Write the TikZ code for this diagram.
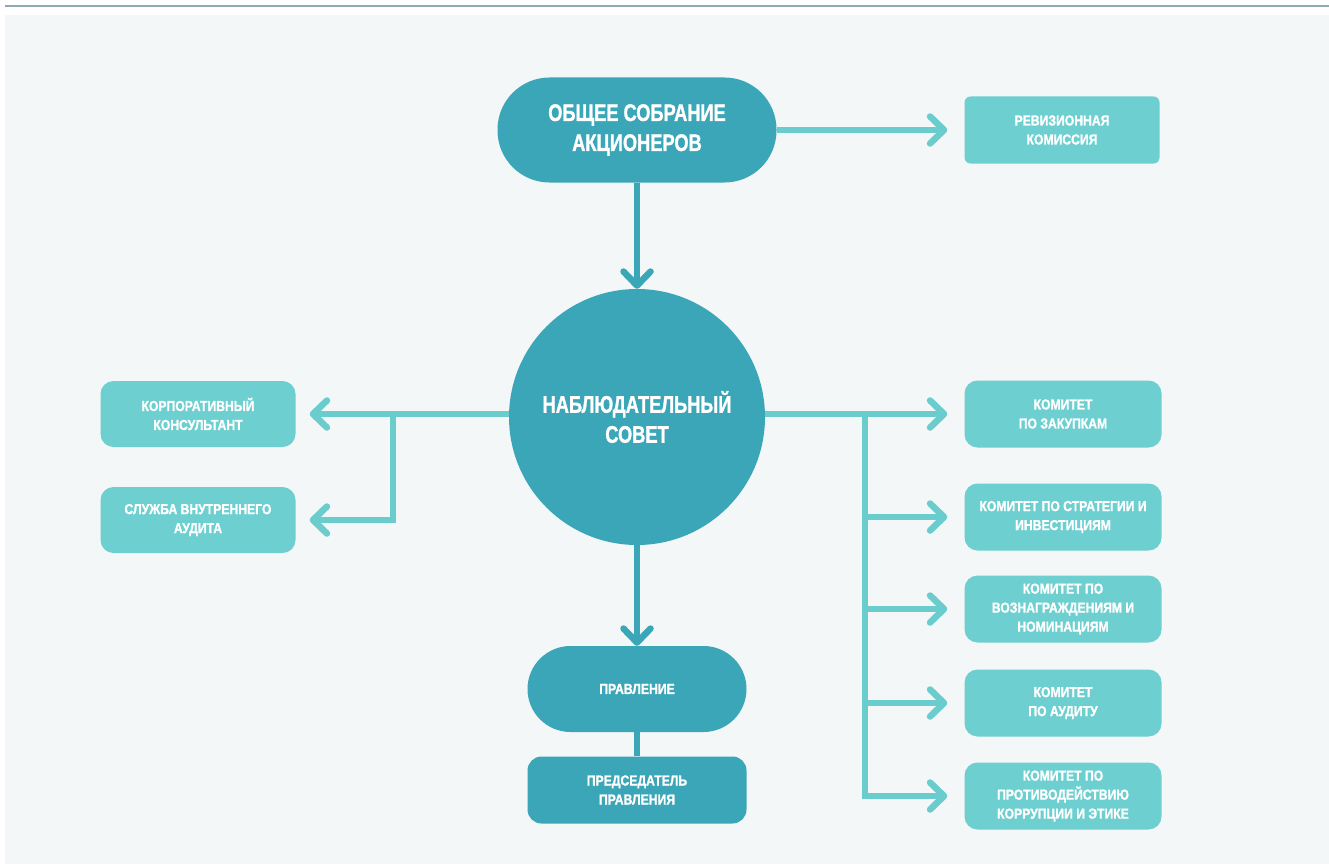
\documentclass[tikz,border=0pt]{standalone}
\usepackage{fontspec}
\setmainfont{Liberation Sans}
\newfontfamily\bigf{Liberation Sans}[FakeStretch=0.76,FakeBold=1.2]
\newfontfamily\smallf{Liberation Sans}[FakeStretch=0.84,FakeBold=1.2]
\usetikzlibrary{arrows.meta}
\definecolor{darkteal}{RGB}{59,166,183}
\definecolor{lightteal}{RGB}{109,207,207}
\definecolor{lline}{RGB}{106,204,204}
\definecolor{panel}{RGB}{243,247,247}
\definecolor{topline}{RGB}{140,170,178}
\begin{document}
\begin{tikzpicture}[x=1pt,y=-1pt,
  bigtext/.style={font=\bigf\bfseries\fontsize{24}{30}\selectfont},
  smalltext/.style={font=\smallf\bfseries\fontsize{14.5}{19}\selectfont},
  darkbox/.style={fill=darkteal, text=white, align=center, inner sep=0pt},
  lightbox/.style={fill=lightteal, text=white, align=center, inner sep=0pt, smalltext,
    minimum width=197pt, minimum height=67pt, rounded corners=13pt},
  arrowtip/.style={-{Straight Barb[length=14pt,width=27pt,round]}},
  lconn/.style={draw=lline, line width=6.5pt},
  dconn/.style={draw=darkteal, line width=6.5pt}
]
\useasboundingbox (0,0) rectangle (1329,864);
\fill[white] (0,0) rectangle (1329,864);
\fill[panel] (5,15) rectangle (1329,864);
\draw[topline, line width=2.5pt] (5,6) -- (1329,6);

% nodes
\node[darkbox, bigtext, minimum width=279pt, minimum height=105pt, rounded corners=52pt] (osa) at (637,130) {ОБЩЕЕ СОБРАНИЕ\\АКЦИОНЕРОВ};
\node[lightbox, minimum width=195pt, rounded corners=6pt] (rev) at (1062,130) {РЕВИЗИОННАЯ\\КОМИССИЯ};
\node[darkbox, bigtext, circle, minimum size=256pt] (ns) at (637,417) {НАБЛЮДАТЕЛЬНЫЙ\\СОВЕТ};
\node[lightbox, minimum width=195pt, minimum height=66pt] (kk) at (198,414) {КОРПОРАТИВНЫЙ\\КОНСУЛЬТАНТ};
\node[lightbox, minimum width=195pt, minimum height=66pt] (sva) at (198,520) {СЛУЖБА ВНУТРЕННЕГО\\АУДИТА};
\node[lightbox] (k1) at (1063,414) {КОМИТЕТ\\ПО ЗАКУПКАМ};
\node[lightbox] (k2) at (1063,517) {КОМИТЕТ ПО СТРАТЕГИИ И\\ИНВЕСТИЦИЯМ};
\node[lightbox] (k3) at (1063,609) {КОМИТЕТ ПО\\ВОЗНАГРАЖДЕНИЯМ И\\НОМИНАЦИЯМ};
\node[lightbox] (k4) at (1063,703) {КОМИТЕТ\\ПО АУДИТУ};
\node[lightbox] (k5) at (1063,796) {КОМИТЕТ ПО\\ПРОТИВОДЕЙСТВИЮ\\КОРРУПЦИИ И ЭТИКЕ};
\node[darkbox, smalltext, minimum width=219pt, minimum height=86pt, rounded corners=43pt] (prav) at (637,689) {ПРАВЛЕНИЕ};
\node[darkbox, smalltext, minimum width=219pt, minimum height=67pt, rounded corners=14pt] (pred) at (637,790) {ПРЕДСЕДАТЕЛЬ\\ПРАВЛЕНИЯ};

% connectors
\draw[dconn, arrowtip] (osa) -- (ns);
\draw[lconn, arrowtip] (osa.east) -- ([xshift=-17pt]rev.west);
\draw[dconn, arrowtip] (ns) -- (prav);
\draw[dconn] (prav) -- (pred);

\draw[lconn, arrowtip] (ns.west |- kk.east) -- ([xshift=14pt]kk.east);
\coordinate (bL) at (393,414);
\draw[lconn, arrowtip] (bL) |- ([xshift=14pt]sva.east);

\draw[lconn, arrowtip] (ns.east |- k1.west) -- ([xshift=-17pt]k1.west);
\coordinate (bR) at (865,414);
\draw[lconn, arrowtip] (bR) |- ([xshift=-17pt]k5.west);
\foreach \k in {k2,k3,k4} \draw[lconn, arrowtip] (bR |- \k.west) -- ([xshift=-17pt]\k.west);
\end{tikzpicture}
\end{document}
